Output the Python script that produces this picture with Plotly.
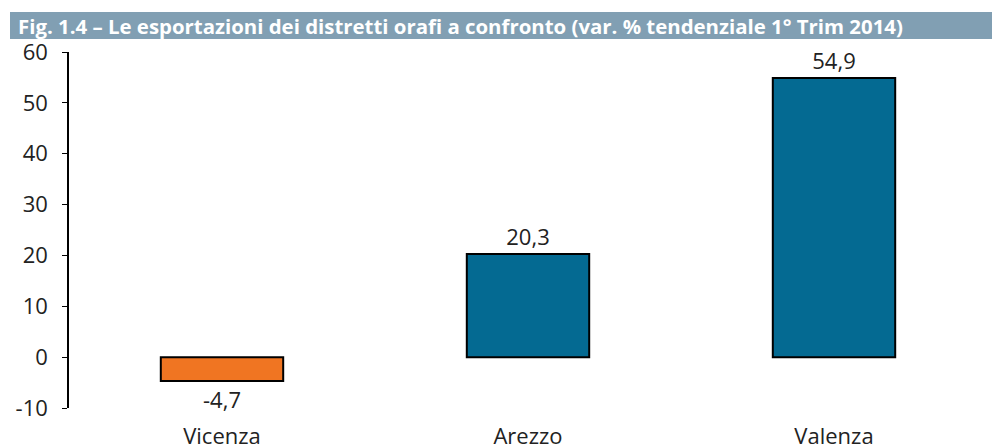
import plotly.graph_objects as go

categories = ["Vicenza", "Arezzo", "Valenza"]
values = [-4.7, 20.3, 54.9]
bar_colors = ["#f07522", "#046a92", "#046a92"]
y_tickvals = [-10, 0, 10, 20, 30, 40, 50, 60]
y_ticktext = ["-10", "0", "10", "20", "30", "40", "50", "60"]
title_text = "Fig. 1.4 – Le esportazioni dei distretti orafi a confronto (var. % tendenziale 1° Trim 2014)"

labels = [f"{v:.1f}".replace(".", ",") for v in values]

W, H = 992, 447
L, R, T, B = 69, 5, 52, 39
plot_h = H - T - B
plot_w = W - L - R

fig = go.Figure()
fig.add_trace(go.Bar(
    x=categories, y=values,
    marker=dict(color=bar_colors, line=dict(color="#000000", width=2)),
    text=labels, textposition="outside",
    textfont=dict(size=22, color="#222222"),
    cliponaxis=False, width=0.4,
))

font = "Open Sans, Noto Sans, sans-serif"
fig.update_layout(
    width=W, height=H,
    margin=dict(l=L, r=R, t=T, b=B, pad=0, autoexpand=False),
    plot_bgcolor="white", paper_bgcolor="white",
    font=dict(family=font, size=22, color="#222222"),
    showlegend=False,
    xaxis=dict(type="category", range=[-0.5, 2.5], showline=False, ticks="",
               showgrid=False, zeroline=False, tickfont=dict(size=22),
               ticklabelstandoff=13, automargin=False),
    xaxis2=dict(overlaying="x", anchor="free", position=10 / 70, range=[-0.5, 2.5],
                showline=True, linecolor="#000000", linewidth=1.5,
                ticks="outside", ticklen=6, tickcolor="#777777", tickwidth=1,
                tickvals=[0.5, 1.5, 2.5], showticklabels=False, showgrid=False,
                zeroline=False, automargin=False),
    yaxis=dict(range=[-10, 60], tickvals=y_tickvals, ticktext=y_ticktext,
               showline=True, linecolor="#000000", linewidth=1.5,
               ticks="outside", ticklen=5, tickcolor="#000000",
               showgrid=False, zeroline=False, tickfont=dict(size=22),
               ticklabelstandoff=10, automargin=False),
)

# title bar
y_px_to_paper = lambda p: (H - B - p) / plot_h
x_px_to_paper = lambda p: (p - L) / plot_w
fig.add_shape(type="rect", xref="paper", yref="paper",
              x0=x_px_to_paper(10), x1=x_px_to_paper(W + 2),
              y0=y_px_to_paper(39), y1=y_px_to_paper(12),
              fillcolor="#819fb3", line=dict(width=0), layer="above")
fig.add_annotation(xref="paper", yref="paper", x=x_px_to_paper(16), y=y_px_to_paper(25.5),
                   xanchor="left", yanchor="middle", showarrow=False,
                   text="<b>" + title_text + "</b>",
                   font=dict(family=font, size=20.4, color="white"))

fig.write_html("out.html", config={"displayModeBar": False},
               post_script="document.body.style.margin='0px';")
